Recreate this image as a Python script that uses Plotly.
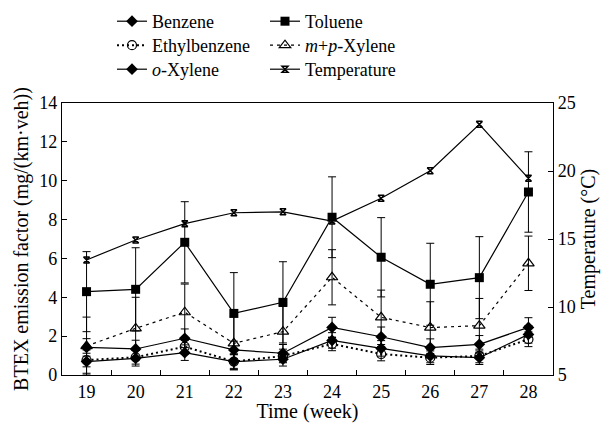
import plotly.graph_objects as go

weeks = [19, 20, 21, 22, 23, 24, 25, 26, 27, 28]

benzene = [1.42, 1.34, 1.89, 1.29, 1.12, 2.45, 1.97, 1.41, 1.58, 2.45]
benzene_err = [0.45, 0.45, 0.48, 0.45, 0.45, 0.52, 0.5, 0.45, 0.45, 0.5]

toluene = [4.29, 4.41, 6.83, 3.17, 3.74, 8.12, 6.06, 4.67, 5.01, 9.42]
toluene_err = [2.06, 2.14, 2.09, 2.10, 2.09, 2.08, 2.04, 2.11, 2.11, 2.07]

ethylbenzene = [0.77, 0.91, 1.46, 0.69, 0.98, 1.60, 1.08, 0.89, 0.98, 1.84]
ethylbenzene_err = [0.35, 0.35, 0.4, 0.35, 0.35, 0.35, 0.35, 0.35, 0.35, 0.38]

mp_xylene = [1.49, 2.40, 3.23, 1.63, 2.23, 5.03, 2.97, 2.44, 2.54, 5.75]
mp_xylene_err = [1.49, 1.6, 1.45, 1.37, 1.3, 1.42, 1.40, 1.33, 1.4, 1.40]

o_xylene = [0.69, 0.86, 1.15, 0.69, 0.81, 1.78, 1.37, 0.98, 0.89, 2.09]
o_xylene_err = [0.6, 0.4, 0.4, 0.4, 0.35, 0.4, 0.4, 0.35, 0.35, 0.45]

temperature = [13.46, 14.93, 16.13, 16.93, 17.0, 16.32, 17.99, 20.02, 23.43, 19.46]

FONT = "Liberation Serif, Times New Roman, serif"
BLACK = "black"

L, R, T, B = 62, 53, 103, 48
W, H = 606, 423
PW, PH = W - L - R, H - T - B

def err(v):
    return dict(type="data", array=v, visible=True, color=BLACK, thickness=1, width=4)

fig = go.Figure()

fig.add_trace(go.Scatter(
    x=weeks, y=toluene, name="Toluene", legend="legend2",
    mode="lines+markers", error_y=err(toluene_err),
    line=dict(color=BLACK, width=1.2),
    marker=dict(symbol="square", size=9, color=BLACK)))

fig.add_trace(go.Scatter(
    x=weeks, y=mp_xylene, name="<i>m</i>+<i>p</i>-Xylene", legend="legend4",
    mode="lines+markers", error_y=err(mp_xylene_err),
    line=dict(color=BLACK, width=1.2, dash="3px,4px"),
    marker=dict(symbol="triangle-up-open", size=10, color=BLACK, line=dict(width=1.2))))

fig.add_trace(go.Scatter(
    x=weeks, y=benzene, name="Benzene", legend="legend",
    mode="lines+markers", error_y=err(benzene_err),
    line=dict(color=BLACK, width=1.2),
    marker=dict(symbol="diamond", size=9, color=BLACK)))

fig.add_trace(go.Scatter(
    x=weeks, y=ethylbenzene, name="Ethylbenzene", legend="legend3",
    mode="lines+markers", error_y=err(ethylbenzene_err),
    line=dict(color=BLACK, width=2, dash="2px,3px"),
    marker=dict(symbol="circle-open", size=9, color=BLACK, line=dict(width=1.2))))

fig.add_trace(go.Scatter(
    x=weeks, y=o_xylene, name="<i>o</i>-Xylene", legend="legend5",
    mode="lines+markers", error_y=err(o_xylene_err),
    line=dict(color=BLACK, width=1.2),
    marker=dict(symbol="diamond", size=9, color=BLACK)))

fig.add_trace(go.Scatter(
    x=weeks, y=temperature, name="Temperature", legend="legend6", yaxis="y2",
    mode="lines+markers",
    line=dict(color=BLACK, width=1.2),
    marker=dict(symbol="hourglass-open", size=6, color=BLACK, line=dict(width=1.5))))

axis_font = dict(family=FONT, size=18, color=BLACK)
title_font = dict(family=FONT, size=20, color=BLACK)
leg_font = dict(family=FONT, size=18, color=BLACK)

def leg(px_x, px_top):
    return dict(x=(px_x - L) / PW, y=1 + (T - px_top) / PH,
                xanchor="left", yanchor="top", bgcolor="rgba(0,0,0,0)",
                font=leg_font, itemwidth=30)

fig.update_layout(
    width=W, height=H,
    margin=dict(l=L, r=R, t=T, b=B, autoexpand=False),
    paper_bgcolor="white", plot_bgcolor="white",
    font=dict(family=FONT, size=18, color=BLACK),
    showlegend=True,
    legend=leg(112, 3),
    legend3=leg(112, 27),
    legend5=leg(112, 51),
    legend2=leg(265, 3),
    legend4=leg(265, 27),
    legend6=leg(265, 51),
    xaxis=dict(
        range=[18.5, 28.5], tickmode="array", tickvals=weeks,
        ticktext=[str(w) for w in weeks], ticks="",
        minor=dict(tickmode="array", tickvals=[w + 0.5 for w in weeks[:-1]],
                   ticks="inside", ticklen=5, tickcolor=BLACK, tickwidth=1),
        showline=True, linecolor=BLACK, linewidth=1.2, mirror=True,
        showgrid=False, zeroline=False, tickfont=axis_font,
        title=dict(text="Time (week)", font=title_font, standoff=2)),
    yaxis=dict(
        range=[0, 14], dtick=2, tick0=0, ticks="inside", ticklen=5,
        tickcolor=BLACK, tickwidth=1,
        showline=True, linecolor=BLACK, linewidth=1.2, mirror=True,
        showgrid=False, zeroline=False, tickfont=axis_font,
        title=dict(text="BTEX emission factor (mg/(km·veh))",
                   font=title_font, standoff=5)),
    yaxis2=dict(
        range=[5, 25], dtick=5, tick0=5, ticks="inside", ticklen=5,
        tickcolor=BLACK, tickwidth=1, overlaying="y", side="right",
        showline=True, linecolor=BLACK, linewidth=1.2,
        showgrid=False, zeroline=False, tickfont=axis_font,
        title=dict(text="Temperature (°C)", font=title_font, standoff=6)),
)

fig.write_html("out.html")
